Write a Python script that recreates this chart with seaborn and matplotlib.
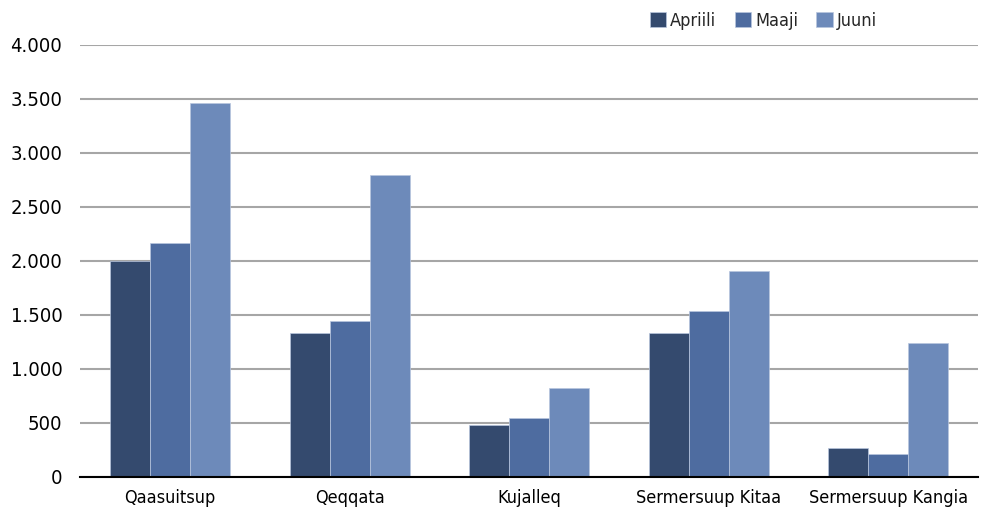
import numpy as np
import pandas as pd
import matplotlib.pyplot as plt
import seaborn as sns
from matplotlib.ticker import FuncFormatter

regions = ['Qaasuitsup', 'Qeqqata', 'Kujalleq', 'Sermersuup Kitaa', 'Sermersuup Kangia']
months = ['Apriili', 'Maaji', 'Juuni']
apriili = [2000, 1335, 480, 1335, 270]
maaji = [2165, 1445, 545, 1540, 215]
juuni = [3465, 2800, 820, 1905, 1240]
colors = ['#344a6e', '#4e6ca0', '#6d8aba']

df = pd.DataFrame({
    'region': regions * 3,
    'month': [m for m in months for _ in regions],
    'value': apriili + maaji + juuni,
})

sns.set_style('white')
plt.rcParams['font.family'] = ['DejaVu Sans']
plt.rcParams['font.stretch'] = 'condensed'

fig, ax = plt.subplots(figsize=(9.92, 5.16), dpi=100)
fig.subplots_adjust(left=0.081, right=0.986, top=0.913, bottom=0.0756)

sns.barplot(data=df, x='region', y='value', hue='month', palette=colors,
            saturation=1, width=0.67, gap=0, ax=ax, edgecolor='#b8c6de',
            linewidth=0.5, zorder=3)

ax.set_ylim(0, 4000)
ax.set_yticks(np.arange(0, 4001, 500))
ax.yaxis.set_major_formatter(FuncFormatter(lambda v, p: f'{int(v):,}'.replace(',', '.')))
ax.grid(axis='y', color='#a6a6a6', linewidth=1.5, zorder=0)
ax.set_axisbelow(True)
for s in ['top', 'right', 'left']:
    ax.spines[s].set_visible(False)
ax.spines['bottom'].set_color('black')
ax.spines['bottom'].set_linewidth(1.5)
ax.spines['bottom'].set_zorder(5)
ax.tick_params(axis='both', length=0, colors='black')
ax.tick_params(axis='y', pad=13, labelsize=14.5)
ax.tick_params(axis='x', pad=9, labelsize=13)
ax.set_xlabel('')
ax.set_ylabel('')

ax.legend(loc='upper left', bbox_to_anchor=(0.626, 1.093), ncol=3, frameon=False,
          fontsize=13, handlelength=0.9, handleheight=0.9, handletextpad=0.25,
          columnspacing=1.0, borderaxespad=0)

plt.savefig('out.png', dpi=100)
